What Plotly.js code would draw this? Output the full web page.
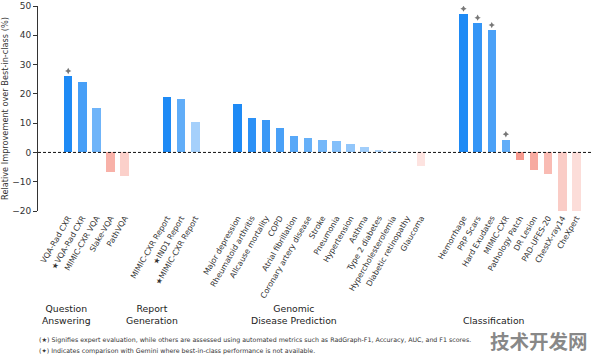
<!DOCTYPE html>
<html>
<head>
<meta charset="utf-8">
<script src="https://cdn.plot.ly/plotly-3.0.1.min.js"></script>
<style>html,body{margin:0;padding:0;background:#fff;}#chart{width:596px;height:357px;}</style>
</head>
<body>
<div id="chart"></div>
<script>
// ---- Data ----
const qaLabels = ["VQA-Rad CXR", "★VQA-Rad CXR", "MIMIC-CXR VQA", "Slake-VQA", "PathVQA"];
const qaValues = [26.0, 24.0, 15.2, -6.8, -8.1];
const qaGemini = ["VQA-Rad CXR"];

const rgLabels = ["MIMIC-CXR Report", "★IND1 Report", "★MIMIC-CXR Report"];
const rgValues = [18.9, 18.2, 10.4];
const rgGemini = [];

const genLabels = ["Major depression", "Rheumatoid arthritis", "Allcause mortality", "COPD",
  "Atrial fibrillation", "Coronary artery disease", "Stroke", "Pneumonia", "Hypertension",
  "Asthma", "Type 2 diabetes", "Hypercholesterolemia", "Diabetic retinopathy", "Glaucoma"];
const genValues = [16.4, 11.9, 11.0, 8.2, 5.6, 4.9, 4.2, 3.75, 2.8, 1.9, 1.0, 0.4, 0.15, -4.6];
const genGemini = [];

const clsLabels = ["Hemorrhage", "PRP Scars", "Hard Exudates", "MIMIC-CXR", "Pathology Patch",
  "DR Lesion", "PAD-UFES-20", "ChestX-ray14", "CheXpert"];
const clsValues = [47.3, 44.2, 41.7, 4.4, -2.6, -6.0, -7.2, -20, -20];
const clsGemini = ["Hemorrhage", "PRP Scars", "Hard Exudates", "MIMIC-CXR"];

const groupNames = ["Question<br>Answering", "Report<br>Generation", "Genomic<br>Disease Prediction", "Classification"];
const footnotes = [
  "(★) Signifies expert evaluation, while others are assessed using automated metrics such as RadGraph-F1, Accuracy, AUC, and F1 scores.",
  "(✦) Indicates comparison with Gemini where best-in-class performance is not available."
];

// ---- Build ----
const groups = [
  {labels: qaLabels, values: qaValues, gem: qaGemini},
  {labels: rgLabels, values: rgValues, gem: rgGemini},
  {labels: genLabels, values: genValues, gem: genGemini},
  {labels: clsLabels, values: clsValues, gem: clsGemini}
];
const GAP = 2;
const xs = [], ys = [], cols = [], tickText = [], mx = [], my = [];
const blue = [30, 138, 245], red = [240, 85, 65];
let pos = 0;
groups.forEach(g => {
  const n = g.labels.length;
  g.labels.forEach((lab, i) => {
    const v = g.values[i];
    const t = i / n;
    const a = 1 - 0.9 * t;
    const c = v >= 0 ? blue : red;
    xs.push(pos + i); ys.push(v); tickText.push(lab);
    cols.push(`rgba(${c[0]},${c[1]},${c[2]},${a.toFixed(3)})`);
    if (g.gem.includes(lab)) { mx.push(pos + i); my.push(v + 1.8); }
  });
  pos += n + GAP;
});

const font = "DejaVu Sans, Arial, sans-serif";
const traces = [
  {type: 'bar', x: xs, y: ys, width: 0.6, marker: {color: cols, line: {width: 0}}, hoverinfo: 'skip'},
  {type: 'scatter', mode: 'markers', x: mx, y: my,
   marker: {symbol: 'star-diamond', size: 4.5, color: '#777', line: {width: 0}}, hoverinfo: 'skip'}
];

const W = 596, H = 357, L = 38, R = 5, T = 6, B = 146;
const pw = W - L - R, ph = H - T - B;
const px = x => (x - L) / pw;
const py = y => (H - B - y) / ph;

const groupPx = [[66, 314.5], [152, 314.5], [294, 314.5], [494, 320]];
const annotations = groupNames.map((g, i) => ({
  text: g, xref: 'paper', yref: 'paper', x: px(groupPx[i][0]), y: py(groupPx[i][1]),
  xanchor: 'center', yanchor: 'middle', showarrow: false, align: 'center',
  font: {family: font, size: 9.3, color: '#222'}
}));
footnotes.forEach((f, i) => annotations.push({
  text: f, xref: 'paper', yref: 'paper', x: px(37), y: py(340 + 11 * i),
  xanchor: 'left', yanchor: 'middle', showarrow: false, align: 'left',
  font: {family: font, size: 6.3, color: '#333'}
}));
annotations.push({
  text: '<b>技术开发网</b>', xref: 'paper', yref: 'paper', x: px(539), y: py(340),
  xanchor: 'center', yanchor: 'middle', showarrow: false,
  font: {family: "Noto Sans CJK SC, sans-serif", size: 19.5, color: 'rgba(115,115,115,0.85)'}
});

const layout = {
  width: W, height: H,
  margin: {l: L, r: R, t: T, b: B, pad: 0},
  paper_bgcolor: '#fff', plot_bgcolor: '#fff',
  showlegend: false, bargap: 0,
  font: {family: font, color: '#333'},
  xaxis: {
    range: [-2.14, 37.03], tickmode: 'array', tickvals: xs, ticktext: tickText,
    tickangle: -60, ticks: '', showline: false, showgrid: false, zeroline: false,
    tickfont: {family: font, size: 7.8, color: '#333'}, automargin: false, fixedrange: true
  },
  yaxis: {
    range: [-20, 50], dtick: 10, tick0: 0, ticks: 'outside', ticklen: 4, tickwidth: 1, tickcolor: '#333',
    showline: true, linecolor: '#333', linewidth: 1, showgrid: false, zeroline: false,
    tickfont: {family: font, size: 9, color: '#333'}, automargin: false, fixedrange: true,
    title: {text: 'Relative Improvement over Best-in-class (%)', font: {family: font, size: 8.2, color: '#333'}, standoff: 6}
  },
  shapes: [{type: 'line', xref: 'paper', yref: 'y', x0: 0, x1: 1, y0: 0, y1: 0,
            line: {color: '#111', width: 1, dash: '3px,2px'}}],
  annotations: annotations
};

Plotly.newPlot('chart', traces, layout, {displayModeBar: false, staticPlot: true});
</script>
</body>
</html>
